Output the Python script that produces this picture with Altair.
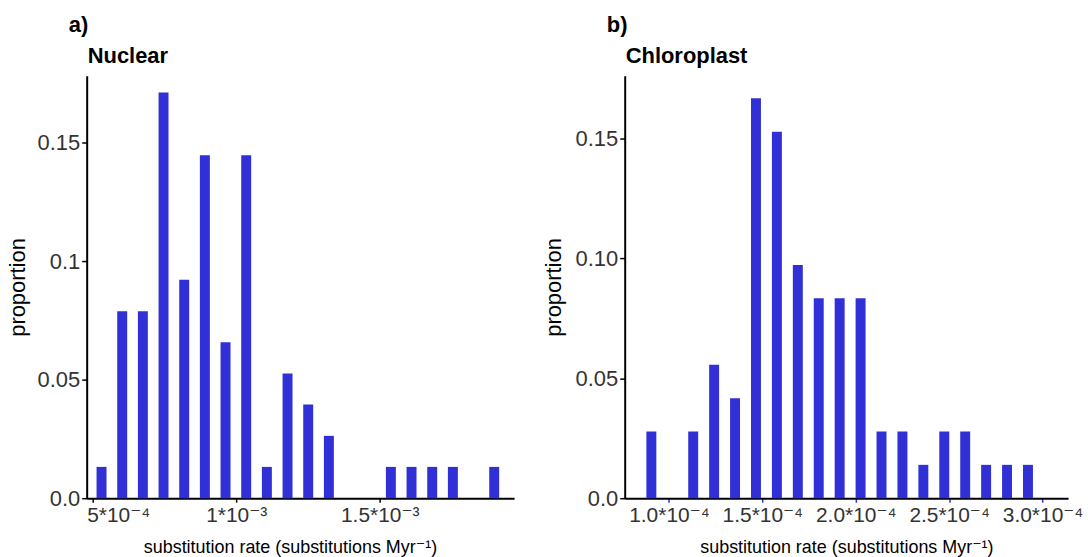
import altair as alt
import pandas as pd

FONT = "Liberation Sans, Arial, DejaVu Sans, sans-serif"
BAR = "#3030d6"

# ---- Nuclear panel (a) ----
nuc_rate = [0.531e-3, 0.603e-3, 0.675e-3, 0.747e-3, 0.819e-3, 0.891e-3, 0.963e-3,
            1.035e-3, 1.107e-3, 1.179e-3, 1.251e-3, 1.323e-3, 1.539e-3, 1.611e-3,
            1.683e-3, 1.755e-3, 1.899e-3]
nuc_prop = [0.0132, 0.0789, 0.0789, 0.1711, 0.0921, 0.1447, 0.0658, 0.1447, 0.0132,
            0.0526, 0.0395, 0.0263, 0.0132, 0.0132, 0.0132, 0.0132, 0.0132]
nuc_xticks = [5e-4, 1e-3, 1.5e-3]
nuc_xlabels = ["5*10\u207b\u2074", "1*10\u207b\u00b3", "1.5*10\u207b\u00b3"]
nuc_yticks = [0.0, 0.05, 0.1, 0.15]
nuc_ylabels = ["0.0", "0.05", "0.1", "0.15"]
nuc_xdomain = [0.4966e-3, 1.951e-3]
nuc_ydomain = [0, 0.1782]

# ---- Chloroplast panel (b) ----
chl_rate = [0.906e-4, 1.130e-4, 1.242e-4, 1.354e-4, 1.466e-4, 1.578e-4, 1.690e-4,
            1.802e-4, 1.914e-4, 2.026e-4, 2.138e-4, 2.250e-4, 2.362e-4, 2.474e-4,
            2.586e-4, 2.698e-4, 2.810e-4, 2.922e-4]
chl_prop = [0.0278, 0.0278, 0.0556, 0.0417, 0.1667, 0.1528, 0.0972, 0.0833, 0.0833,
            0.0833, 0.0278, 0.0278, 0.0139, 0.0278, 0.0278, 0.0139, 0.0139, 0.0139]
chl_xticks = [1.0e-4, 1.5e-4, 2.0e-4, 2.5e-4, 3.0e-4]
chl_xlabels = ["1.0*10\u207b\u2074", "1.5*10\u207b\u2074", "2.0*10\u207b\u2074",
               "2.5*10\u207b\u2074", "3.0*10\u207b\u2074"]
chl_yticks = [0.0, 0.05, 0.10, 0.15]
chl_ylabels = ["0.0", "0.05", "0.10", "0.15"]
chl_xdomain = [0.790e-4, 3.110e-4]
chl_ydomain = [0, 0.1761]

XTITLE = "substitution rate (substitutions Myr\u207b\u00b9)"


def label_expr(values, labels):
    expr = "''"
    for v, l in reversed(list(zip(values, labels))):
        expr = f"(abs(datum.value - {v}) < {abs(v) * 1e-3 + 1e-12}) ? '{l}' : " + expr
    return expr


def panel(rate, prop, xticks, xlabels, yticks, ylabels, xdom, ydom, title, tag,
          w, h, xtick_color, ytitle_pad, xtitle_x=None, flush_first=False):
    df = pd.DataFrame({"rate": rate, "proportion": prop})
    xaxis_kw = dict(values=xticks, labelExpr=label_expr(xticks, xlabels),
                    title=XTITLE, titleFontSize=18, titleFontWeight="normal",
                    titleFont=FONT, titleColor="black", titlePadding=14,
                    labelFont=FONT, labelFontSize=21, labelColor="#333333",
                    labelPadding=2, labelOverlap=False,
                    tickSize=4, tickColor=xtick_color, tickWidth=1.5,
                    domainColor="black", domainWidth=2, grid=False)
    if flush_first:
        first = xticks[0] * 1.2
        xaxis_kw["labelAlign"] = alt.condition(f"datum.value < {first}",
                                               alt.value("left"), alt.value("center"))
        xaxis_kw["labelOffset"] = alt.condition(f"datum.value < {first}",
                                                alt.value(-6), alt.value(0))
    if xtitle_x is not None:
        xaxis_kw["titleX"] = xtitle_x
    bars = alt.Chart(df).mark_bar(color=BAR, size=10).encode(
        x=alt.X("rate:Q",
                scale=alt.Scale(domain=xdom, zero=False, nice=False),
                axis=alt.Axis(**xaxis_kw)),
        y=alt.Y("proportion:Q",
                scale=alt.Scale(domain=ydom, nice=False, zero=True),
                axis=alt.Axis(values=yticks, labelExpr=label_expr(yticks, ylabels),
                              title="proportion", titleFontSize=22,
                              titleFontWeight="normal", titleFont=FONT,
                              titleColor="black", titlePadding=ytitle_pad,
                              labelFont=FONT, labelFontSize=22, labelColor="#333333",
                              labelPadding=2, labelFlush=False, labelOverlap=False,
                              tickSize=5, tickColor="black", tickWidth=1.5,
                              domainColor="black", domainWidth=2, grid=False)),
    )
    tag_df = pd.DataFrame({"t": [tag]})
    tag_mark = alt.Chart(tag_df).mark_text(
        font=FONT, fontSize=22, fontWeight="bold", align="left",
        baseline="alphabetic", color="black"
    ).encode(text="t:N", x=alt.value(-18), y=alt.value(-44))
    title_df = pd.DataFrame({"t": [title]})
    title_mark = alt.Chart(title_df).mark_text(
        font=FONT, fontSize=22, fontWeight="bold", align="left",
        baseline="alphabetic", color="black"
    ).encode(text="t:N", x=alt.value(1), y=alt.value(-13))
    return alt.layer(bars, tag_mark, title_mark).properties(width=w, height=h)


left = panel(nuc_rate, nuc_prop, nuc_xticks, nuc_xlabels, nuc_yticks, nuc_ylabels,
             nuc_xdomain, nuc_ydomain, "Nuclear", "a)", 429, 424, "black", 8,
             xtitle_x=204, flush_first=True)
right = panel(chl_rate, chl_prop, chl_xticks, chl_xlabels, chl_yticks, chl_ylabels,
              chl_xdomain, chl_ydomain, "Chloroplast", "b)", 445, 424, "#3030d6", 10)

chart = alt.hconcat(left, right, spacing=28).properties(
    padding={"left": 6, "top": 13, "right": 5, "bottom": 0},
    background="white",
).configure_view(stroke=None)

chart.save("out.html", embed_options={"renderer": "svg", "actions": False})
